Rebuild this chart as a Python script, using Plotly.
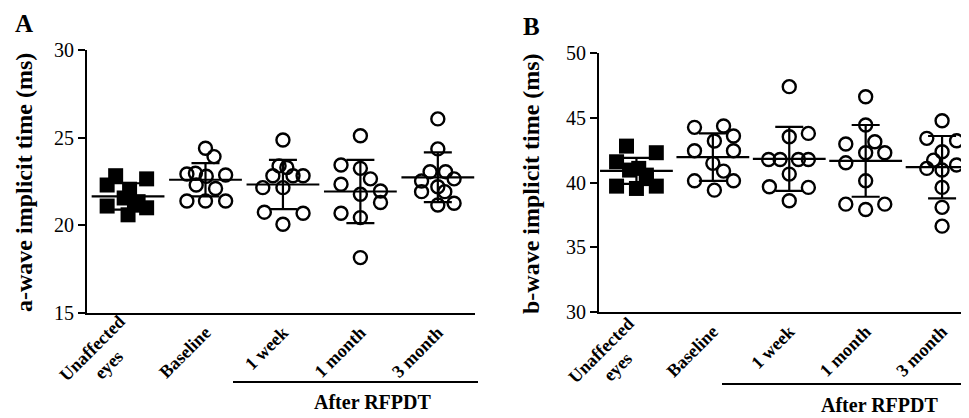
import plotly.graph_objects as go

# ---------------- data ----------------
categories = ["Unaffected<br>eyes", "Baseline", "1 week", "1 month", "3 month"]

# Panel A: a-wave implicit time (ms)
a_unaffected = [22.83, 22.65, 22.30, 22.06, 21.56, 21.35, 21.10, 21.00, 20.60, 21.15]
a_baseline = [24.40, 23.92, 22.93, 22.97, 22.80, 22.87, 22.30, 22.10, 21.39, 21.39, 21.39]
a_week1 = [24.87, 23.39, 23.30, 22.83, 22.83, 22.83, 22.15, 22.15, 20.75, 20.69, 20.06]
a_month1 = [25.11, 23.44, 23.25, 22.65, 22.34, 21.96, 21.77, 21.30, 20.69, 20.44, 18.16]
a_month3 = [26.07, 24.36, 23.06, 23.06, 22.53, 22.65, 22.20, 21.92, 21.92, 21.16, 21.26]
a_mean = [21.65, 22.60, 22.33, 21.93, 22.74]
a_sd = [0.75, 0.95, 1.40, 1.80, 1.42]

# Panel B: b-wave implicit time (ms)
b_unaffected = [42.81, 42.30, 41.60, 41.09, 40.96, 40.57, 39.72, 39.54, 39.72, 40.30]
b_baseline = [44.26, 44.36, 43.59, 43.20, 42.45, 42.45, 41.48, 40.88, 40.13, 40.13, 39.41]
b_week1 = [47.40, 43.53, 43.79, 41.78, 41.78, 41.78, 41.78, 40.65, 39.67, 39.62, 38.59]
b_month1 = [46.62, 44.44, 42.97, 43.15, 42.30, 42.30, 41.52, 40.13, 38.33, 37.92, 38.33]
b_month3 = [44.77, 43.41, 43.22, 42.37, 41.73, 41.09, 41.35, 40.96, 39.62, 38.08, 36.63]
b_mean = [40.90, 41.96, 41.83, 41.67, 41.18]
b_sd = [1.00, 1.83, 2.47, 2.77, 2.41]

# horizontal scatter (jitter) of the dots, in category units
a_jit = [
    [-0.16, 0.24, -0.27, 0.02, -0.05, 0.13, -0.27, 0.24, 0.00, 0.10],
    [0.00, 0.11, -0.24, -0.13, 0.01, 0.26, -0.12, 0.13, -0.24, 0.00, 0.26],
    [0.00, -0.05, 0.05, -0.13, 0.13, 0.26, -0.26, 0.00, -0.24, 0.26, 0.00],
    [0.00, -0.25, 0.00, 0.13, -0.25, 0.26, 0.00, 0.26, -0.25, 0.00, 0.00],
    [0.00, 0.00, -0.10, 0.10, -0.21, 0.21, 0.00, -0.21, 0.09, 0.00, 0.21],
]
b_jit = [
    [-0.13, 0.26, -0.26, 0.03, -0.09, 0.13, -0.26, 0.00, 0.26, 0.13],
    [-0.24, 0.14, 0.27, 0.02, -0.24, 0.27, 0.00, 0.14, -0.24, 0.27, 0.02],
    [0.00, 0.00, 0.25, -0.27, -0.12, 0.12, 0.25, 0.00, -0.26, 0.25, 0.00],
    [0.00, 0.00, -0.26, 0.12, 0.00, 0.25, -0.26, 0.00, -0.26, 0.00, 0.25],
    [0.00, -0.20, 0.19, 0.00, -0.11, -0.20, 0.19, 0.00, 0.00, 0.00, 0.00],
]

a_groups = [a_unaffected, a_baseline, a_week1, a_month1, a_month3]
b_groups = [b_unaffected, b_baseline, b_week1, b_month1, b_month3]

# ---------------- figure ----------------
OFF = 8                      # default page margin around the plot div
W, H = 969 - OFF, 418 - OFF  # figure size so it fits the window exactly


def fx(px):  # page pixel x -> paper fraction
    return (px - OFF) / W


def fy(py):  # page pixel y -> paper fraction
    return 1 - (py - OFF) / H


fig = go.Figure()
SERIF = "Liberation Serif, Times New Roman, serif"


def add_panel(groups, jits, means, sds, xa, ya):
    for i, (vals, jit) in enumerate(zip(groups, jits)):
        xs = [i + j for j in jit]
        if i == 0:
            mk = dict(symbol="square", size=15, color="black",
                      line=dict(width=0))
        else:
            mk = dict(symbol="circle-open", size=13, color="black",
                      line=dict(width=2.4, color="black"))
        fig.add_trace(go.Scatter(x=xs, y=vals, mode="markers", marker=mk,
                                 xaxis=xa, yaxis=ya, showlegend=False,
                                 cliponaxis=False, hoverinfo="y"))
    # mean +/- SD
    fig.add_trace(go.Scatter(
        x=list(range(len(means))), y=means, mode="markers",
        marker=dict(symbol="line-ew-open", size=52,
                    line=dict(width=2.2, color="black"), color="black"),
        error_y=dict(type="data", array=sds, visible=True, color="black",
                     thickness=2.2, width=14),
        xaxis=xa, yaxis=ya, showlegend=False, cliponaxis=False,
        hoverinfo="y"))


add_panel(a_groups, a_jit, a_mean, a_sd, "x", "y")
add_panel(b_groups, b_jit, b_mean, b_sd, "x2", "y2")

ticktext = ["" if "<br>" in c else "<b>%s</b>" % c for c in categories]
xcommon = dict(
    showline=True, linecolor="black", linewidth=2, showgrid=False,
    zeroline=False, ticks="", tickangle=-45, tickmode="array",
    tickvals=list(range(len(categories))), ticktext=ticktext,
    automargin=False,
    tickfont=dict(family=SERIF, size=18, color="black"),
)
ycommon = dict(
    showline=True, linecolor="black", linewidth=2, showgrid=False,
    zeroline=False, ticks="outside", ticklen=7, tickwidth=2,
    tickcolor="black", automargin=False,
    tickfont=dict(family=SERIF, size=20, color="black"),
)

fig.update_layout(
    width=W, height=H,
    margin=dict(l=0, r=0, t=0, b=0),
    paper_bgcolor="white", plot_bgcolor="white",
    xaxis=dict(domain=[fx(87), fx(475)], range=[-0.53, 4.48], anchor="y",
               **xcommon),
    yaxis=dict(domain=[fy(313), fy(50)], range=[15, 30],
               tickvals=[15, 20, 25, 30], anchor="x", **ycommon),
    xaxis2=dict(domain=[fx(599), fx(965)], range=[-0.49, 4.30], anchor="y2",
                **xcommon),
    yaxis2=dict(domain=[fy(312), fy(53)], range=[30, 50],
                tickvals=[30, 35, 40, 45, 50], anchor="x2", **ycommon),
)

ann = []
# y-axis titles
ann.append(dict(text="<b>a-wave implicit time (ms)</b>", x=fx(24), y=fy(183),
                xref="paper", yref="paper", textangle=-90, showarrow=False,
                font=dict(family=SERIF, size=24, color="black"),
                xanchor="center", yanchor="middle"))
ann.append(dict(text="<b>b-wave implicit time (ms)</b>", x=fx(531), y=fy(184),
                xref="paper", yref="paper", textangle=-90, showarrow=False,
                font=dict(family=SERIF, size=24, color="black"),
                xanchor="center", yanchor="middle"))
# two-line first category label (centred lines), rotated like the ticks
for cx, cy in [(100, 356), (609, 358)]:
    ann.append(dict(text="<b>Unaffected<br>eyes</b>", x=fx(cx), y=fy(cy),
                    xref="paper", yref="paper", textangle=-45,
                    showarrow=False, align="center",
                    font=dict(family=SERIF, size=18, color="black"),
                    xanchor="center", yanchor="middle"))
# panel letters
for lab, px, py in [("A", 24, 23), ("B", 531, 26)]:
    ann.append(dict(text="<b>%s</b>" % lab, x=fx(px), y=fy(py),
                    xref="paper", yref="paper", showarrow=False,
                    font=dict(family=SERIF, size=25, color="black"),
                    xanchor="center", yanchor="middle"))
# After RFPDT labels
for px, py in [(372, 402), (879, 405)]:
    ann.append(dict(text="<b>After RFPDT</b>", x=fx(px), y=fy(py),
                    xref="paper", yref="paper", showarrow=False,
                    font=dict(family=SERIF, size=20, color="black"),
                    xanchor="center", yanchor="middle"))
fig.update_layout(annotations=ann)

shapes = []
for x0, x1, yy in [(233, 478, 382), (722, 967, 384)]:
    shapes.append(dict(type="line", xref="paper", yref="paper",
                       x0=fx(x0), x1=fx(x1), y0=fy(yy), y1=fy(yy),
                       line=dict(color="black", width=2)))
fig.update_layout(shapes=shapes)

fig.write_html("out.html")
